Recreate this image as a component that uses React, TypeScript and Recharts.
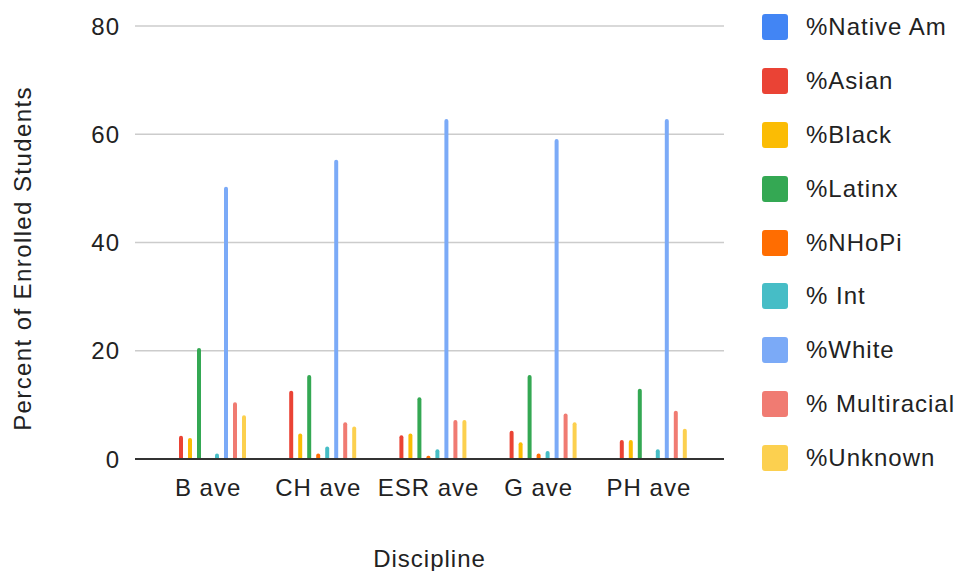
import React from 'react';
import { BarChart, Bar, XAxis, YAxis, CartesianGrid } from 'recharts';

const disciplines = ['B ave', 'CH ave', 'ESR ave', 'G ave', 'PH ave'];

const nativeAm = [0, 0, 0, 0, 0];
const asian = [4.3, 12.6, 4.4, 5.2, 3.5];
const black = [3.9, 4.7, 4.7, 3.1, 3.5];
const latinx = [20.5, 15.5, 11.4, 15.5, 13.0];
const nhopi = [0, 1.0, 0.6, 1.0, 0];
const intl = [1.0, 2.3, 1.8, 1.5, 1.8];
const white = [50.3, 55.3, 62.8, 59.1, 62.8];
const multiracial = [10.5, 6.8, 7.2, 8.4, 8.9];
const unknown = [8.1, 6.0, 7.2, 6.8, 5.6];

const yTicks = [0, 20, 40, 60, 80];

const seriesList = [
  { key: 'nativeAm', name: '%Native Am', values: nativeAm, color: '#4285F4' },
  { key: 'asian', name: '%Asian', values: asian, color: '#EA4335' },
  { key: 'black', name: '%Black', values: black, color: '#FBBC04' },
  { key: 'latinx', name: '%Latinx', values: latinx, color: '#34A853' },
  { key: 'nhopi', name: '%NHoPi', values: nhopi, color: '#FF6D01' },
  { key: 'intl', name: '% Int', values: intl, color: '#46BDC6' },
  { key: 'white', name: '%White', values: white, color: '#7BAAF7' },
  { key: 'multiracial', name: '% Multiracial', values: multiracial, color: '#F07B72' },
  { key: 'unknown', name: '%Unknown', values: unknown, color: '#FCD04F' },
];

const data = disciplines.map((d, i) => {
  const row: Record<string, string | number> = { name: d };
  seriesList.forEach((s) => {
    row[s.key] = s.values[i];
  });
  return row;
});

const FONT = '"Liberation Sans", Arial, sans-serif';
const textStyle = { fontSize: 24, fill: '#222', fontFamily: FONT, letterSpacing: 1.0 };

const LegendList = () => (
  <div style={{ position: 'absolute', left: 762, top: 0, fontFamily: FONT }}>
    {seriesList.map((s) => (
      <div key={s.key} style={{ display: 'flex', alignItems: 'center', height: 53.9 }}>
        <div
          style={{
            width: 26,
            height: 26,
            borderRadius: 3,
            background: s.color,
            marginRight: 18,
          }}
        />
        <span style={{ fontSize: 24, color: '#222', letterSpacing: 1.0, whiteSpace: 'nowrap' }}>{s.name}</span>
      </div>
    ))}
  </div>
);

// Vertical axis title, centred a little below the plot's middle
const YTitle = (props: any) => {
  const vb = props.viewBox || { x: 0, y: 0, width: 0, height: 0 };
  const cx = vb.x + 22;
  const cy = vb.y + vb.height / 2 + 16;
  return (
    <text
      x={cx}
      y={cy}
      transform={`rotate(-90, ${cx}, ${cy})`}
      textAnchor="middle"
      dominantBaseline="central"
      style={{ ...textStyle, letterSpacing: 1.4 }}
    >
      Percent of Enrolled Students
    </text>
  );
};

export default function App() {
  return (
    <div style={{ position: 'absolute', left: 0, top: 0, width: 960, height: 571, background: '#fff' }}>
      <BarChart
        width={960}
        height={571}
        data={data}
        margin={{ top: 26, right: 236, bottom: 0, left: 0 }}
        barSize={4}
        barGap={5}
      >
        <CartesianGrid vertical={false} stroke="#cccccc" strokeWidth={1.5} />
        <XAxis
          dataKey="name"
          height={112}
          padding={{ left: 18, right: 20 }}
          tickLine={false}
          tickSize={0}
          tickMargin={20}
          axisLine={{ stroke: '#333', strokeWidth: 2 }}
          tick={textStyle}
          label={{
            value: 'Discipline',
            position: 'insideBottom',
            offset: 4,
            style: textStyle,
          }}
        />
        <YAxis
          width={135}
          domain={[0, 80]}
          ticks={yTicks}
          tickLine={false}
          axisLine={false}
          tickSize={0}
          tickMargin={15}
          tick={textStyle}
          label={{ content: YTitle }}
        />
        {seriesList.map((s) => (
          <Bar
            key={s.key}
            dataKey={s.key}
            name={s.name}
            fill={s.color}
            radius={[2, 2, 0, 0]}
            isAnimationActive={false}
          />
        ))}
      </BarChart>
      <LegendList />
    </div>
  );
}
